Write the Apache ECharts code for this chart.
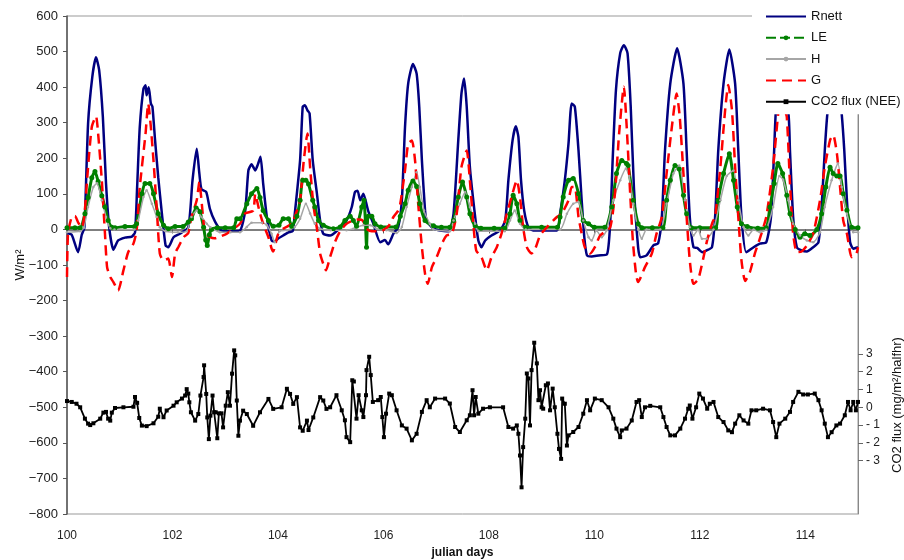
<!DOCTYPE html>
<html>
<head>
<meta charset="utf-8">
<script src="https://cdn.jsdelivr.net/npm/echarts@6/dist/echarts.min.js"></script>
<style>
  html, body { margin: 0; padding: 0; background: #fff; }
  #chart { width: 904px; height: 560px; }
</style>
</head>
<body>
<div id="chart"></div>
<script>
// [julian day, W/m2]
const rnett = [[100.00,-10],[100.09,-15],[100.21,-64],[100.28,-15],[100.33,5],[100.40,298],[100.48,429],[100.55,484],[100.61,448],[100.68,316],[100.74,129],[100.80,6],[100.88,-57],[100.97,-31],[101.10,-23],[101.23,-20],[101.29,-8],[101.33,119],[101.38,288],[101.45,396],[101.49,405],[101.51,377],[101.55,400],[101.59,354],[101.62,345],[101.67,251],[101.73,147],[101.80,44],[101.87,-45],[101.92,-50],[102.02,-22],[102.14,-12],[102.30,6],[102.38,138],[102.46,227],[102.51,157],[102.55,113],[102.64,105],[102.71,58],[102.81,21],[102.93,-3],[103.10,-5],[103.28,-3],[103.38,53],[103.44,166],[103.50,183],[103.57,166],[103.62,183],[103.67,204],[103.72,129],[103.79,35],[103.88,-31],[103.94,-34],[104.01,-25],[104.10,-17],[104.20,-8],[104.28,-5],[104.32,45],[104.42,194],[104.47,345],[104.51,349],[104.56,335],[104.60,326],[104.66,194],[104.74,100],[104.80,25],[104.86,-12],[104.99,-17],[105.11,-5],[105.30,25],[105.40,63],[105.46,105],[105.51,109],[105.56,82],[105.62,100],[105.71,53],[105.81,16],[105.94,-36],[106.03,-30],[106.09,-42],[106.19,-12],[106.28,6],[106.35,82],[106.41,288],[106.47,410],[106.56,465],[106.63,438],[106.68,345],[106.73,194],[106.79,53],[106.82,25],[106.95,2],[107.20,-5],[107.25,-5],[107.33,44],[107.42,251],[107.48,382],[107.53,424],[107.58,345],[107.64,175],[107.74,35],[107.80,-31],[107.86,-50],[107.93,-31],[108.05,-17],[108.21,-3],[108.31,25],[108.37,138],[108.45,251],[108.51,290],[108.56,260],[108.61,138],[108.67,53],[108.75,6],[108.84,-3],[109.29,-3],[109.35,44],[109.44,138],[109.51,241],[109.57,354],[109.63,345],[109.70,222],[109.76,82],[109.81,-22],[109.86,-73],[109.95,-76],[110.08,-73],[110.24,-70],[110.30,16],[110.35,204],[110.41,392],[110.49,495],[110.56,518],[110.63,495],[110.69,345],[110.75,120],[110.83,-50],[110.87,-78],[110.99,-73],[111.12,-45],[111.21,-39],[111.28,35],[111.34,222],[111.44,410],[111.57,509],[111.69,410],[111.75,222],[111.81,35],[111.88,-50],[111.95,-52],[112.00,-59],[112.05,-64],[112.13,-59],[112.23,-50],[112.29,35],[112.35,222],[112.45,410],[112.56,506],[112.67,410],[112.73,222],[112.79,35],[112.88,-64],[113.02,-50],[113.14,-40],[113.26,-36],[113.35,35],[113.41,222],[113.44,326],[113.50,390],[113.56,380],[113.68,326],[113.71,222],[113.77,35],[113.84,-50],[113.93,-59],[114.03,-62],[114.15,-50],[114.25,-36],[114.31,62],[114.37,222],[114.42,326],[114.52,440],[114.62,420],[114.69,326],[114.74,222],[114.79,82],[114.85,-36],[114.91,-54],[115.00,-50]];

const le = [[100.00,5],[100.15,5],[100.25,5],[100.34,44],[100.40,90],[100.47,145],[100.53,163],[100.59,135],[100.66,95],[100.72,63],[100.78,25],[100.85,6],[100.91,5],[101.10,8],[101.28,8],[101.32,16],[101.42,100],[101.48,129],[101.57,129],[101.64,100],[101.73,44],[101.83,12],[101.92,2],[102.05,8],[102.20,8],[102.30,21],[102.36,30],[102.45,60],[102.52,50],[102.59,6],[102.63,-30],[102.66,-45],[102.70,-15],[102.74,0],[102.85,5],[103.00,5],[103.16,5],[103.22,30],[103.28,30],[103.41,72],[103.50,100],[103.60,115],[103.66,90],[103.72,53],[103.82,25],[103.91,9],[104.02,12],[104.10,30],[104.20,30],[104.26,9],[104.36,37],[104.42,82],[104.47,138],[104.53,138],[104.58,128],[104.66,82],[104.70,63],[104.77,25],[104.86,12],[105.05,2],[105.18,7],[105.27,25],[105.37,37],[105.43,25],[105.49,9],[105.59,63],[105.63,82],[105.66,20],[105.68,-50],[105.71,37],[105.78,37],[105.84,16],[105.95,7],[106.24,7],[106.32,37],[106.41,72],[106.47,110],[106.56,136],[106.63,121],[106.69,72],[106.79,25],[106.95,10],[107.10,6],[107.26,6],[107.33,25],[107.42,91],[107.50,133],[107.58,91],[107.64,44],[107.74,10],[107.85,3],[108.10,3],[108.30,3],[108.40,44],[108.46,96],[108.53,72],[108.59,25],[108.70,6],[109.00,6],[109.30,6],[109.35,35],[109.41,91],[109.51,138],[109.60,143],[109.70,100],[109.79,25],[109.89,16],[110.00,6],[110.20,6],[110.33,63],[110.42,157],[110.52,194],[110.61,185],[110.64,180],[110.74,82],[110.83,16],[110.90,5],[111.10,5],[111.30,5],[111.37,82],[111.44,138],[111.53,180],[111.61,170],[111.69,96],[111.75,44],[111.84,5],[112.00,5],[112.30,5],[112.35,82],[112.45,157],[112.56,213],[112.64,138],[112.71,63],[112.79,16],[112.90,8],[113.10,3],[113.26,5],[113.33,63],[113.41,129],[113.48,185],[113.57,157],[113.65,96],[113.71,44],[113.81,0],[113.90,-22],[113.99,-12],[114.09,-17],[114.22,0],[114.31,44],[114.39,119],[114.47,175],[114.53,157],[114.60,150],[114.66,150],[114.72,100],[114.79,54],[114.88,6],[115.00,5]];

const h = [[100.00,-8],[100.25,-5],[100.32,5],[100.40,63],[100.50,119],[100.57,130],[100.66,82],[100.74,35],[100.82,3],[100.90,0],[101.28,0],[101.35,25],[101.45,91],[101.51,110],[101.61,72],[101.70,35],[101.76,6],[101.87,-5],[102.10,-8],[102.27,-5],[102.36,35],[102.46,53],[102.55,35],[102.65,16],[102.72,6],[102.90,-8],[103.10,-8],[103.28,-8],[103.41,7],[103.50,19],[103.70,19],[103.79,12],[103.88,-12],[103.94,-36],[104.03,-5],[104.17,-2],[104.32,7],[104.42,30],[104.53,72],[104.61,45],[104.70,16],[104.80,2],[105.00,-2],[105.30,-2],[105.43,2],[105.62,12],[105.75,12],[105.87,2],[106.06,-2],[106.25,-10],[106.35,7],[106.44,63],[106.54,119],[106.63,161],[106.69,119],[106.77,53],[106.88,16],[106.95,0],[107.26,-5],[107.33,25],[107.45,72],[107.55,105],[107.64,63],[107.74,16],[107.80,-5],[108.30,-5],[108.40,25],[108.49,53],[108.59,16],[108.70,0],[109.35,0],[109.48,44],[109.60,72],[109.70,77],[109.79,25],[109.89,-22],[109.95,-31],[110.04,-3],[110.14,-22],[110.23,-3],[110.36,82],[110.49,138],[110.60,171],[110.66,150],[110.74,72],[110.83,0],[110.90,-26],[110.99,0],[111.25,0],[111.37,72],[111.50,157],[111.61,180],[111.72,82],[111.81,6],[111.88,-17],[111.97,0],[112.04,-26],[112.13,-26],[112.26,0],[112.39,82],[112.51,150],[112.64,166],[112.73,82],[112.83,6],[112.92,-17],[113.02,0],[113.14,-8],[113.26,0],[113.39,63],[113.51,150],[113.58,140],[113.68,82],[113.77,16],[113.90,-17],[114.03,-31],[114.15,-36],[114.28,-8],[114.37,63],[114.50,138],[114.62,185],[114.69,119],[114.79,44],[114.91,-8],[115.00,-8]];

const g = [[100.00,-134],[100.02,-10],[100.09,35],[100.15,38],[100.21,20],[100.28,5],[100.33,40],[100.39,157],[100.47,288],[100.55,318],[100.59,270],[100.66,138],[100.72,-12],[100.76,-106],[100.82,-134],[100.88,-148],[100.97,-172],[101.07,-115],[101.16,-64],[101.26,-40],[101.32,-3],[101.38,119],[101.49,270],[101.54,354],[101.59,288],[101.64,194],[101.70,63],[101.76,-68],[101.83,-87],[101.92,-82],[101.99,-134],[102.05,-68],[102.11,-50],[102.21,-22],[102.30,-10],[102.36,35],[102.46,82],[102.51,133],[102.55,82],[102.60,6],[102.64,-12],[102.70,-20],[102.80,-25],[102.90,-20],[103.03,-12],[103.28,16],[103.38,45],[103.53,53],[103.57,100],[103.62,70],[103.66,45],[103.72,16],[103.82,-22],[103.88,-54],[103.91,-62],[104.00,-15],[104.10,2],[104.26,16],[104.36,53],[104.42,82],[104.49,194],[104.56,270],[104.61,175],[104.67,72],[104.74,2],[104.80,-68],[104.86,-97],[104.91,-115],[104.99,-77],[105.08,-36],[105.18,-5],[105.30,16],[105.43,25],[105.52,28],[105.61,25],[105.68,2],[105.78,-5],[105.95,-5],[106.10,10],[106.19,35],[106.28,53],[106.32,72],[106.41,166],[106.47,241],[106.54,250],[106.60,194],[106.66,72],[106.73,-50],[106.79,-125],[106.84,-153],[106.92,-106],[107.01,-78],[107.11,-40],[107.20,-17],[107.30,-12],[107.39,44],[107.48,175],[107.58,222],[107.64,138],[107.70,25],[107.76,-59],[107.86,-78],[107.96,-115],[108.05,-78],[108.15,-50],[108.24,-12],[108.34,44],[108.43,91],[108.53,138],[108.59,91],[108.65,6],[108.72,-50],[108.81,-68],[108.88,-54],[108.97,-17],[109.10,6],[109.29,35],[109.38,44],[109.51,82],[109.57,119],[109.63,119],[109.70,35],[109.76,-12],[109.82,-50],[109.92,-68],[110.01,-50],[110.11,-17],[110.30,6],[110.39,100],[110.47,270],[110.56,401],[110.61,298],[110.68,100],[110.73,-31],[110.79,-125],[110.83,-148],[110.96,-106],[111.09,-68],[111.18,-12],[111.28,35],[111.37,157],[111.47,288],[111.56,382],[111.62,316],[111.69,157],[111.75,35],[111.81,-87],[111.88,-153],[111.97,-140],[112.06,-85],[112.14,-30],[112.24,20],[112.29,35],[112.39,175],[112.48,335],[112.54,406],[112.61,335],[112.67,175],[112.73,35],[112.79,-87],[112.86,-145],[112.95,-120],[113.04,-70],[113.14,-25],[113.26,35],[113.39,175],[113.48,316],[113.53,370],[113.60,340],[113.65,316],[113.71,129],[113.77,-12],[113.84,-64],[113.93,-62],[114.03,-45],[114.15,-12],[114.28,82],[114.37,175],[114.47,251],[114.53,265],[114.60,213],[114.66,119],[114.72,25],[114.79,-12],[114.88,-78],[114.97,-68],[115.00,-50]];

// [julian day, mg/m2/halfhr] on the right axis
const co2 = [[100.00,0.35],[100.09,0.3],[100.18,0.2],[100.25,0],[100.34,-0.64],[100.40,-0.92],[100.44,-1.0],[100.50,-0.9],[100.63,-0.64],[100.69,-0.3],[100.74,-0.26],[100.78,-0.64],[100.82,-0.75],[100.85,-0.3],[100.91,-0.04],[101.07,0],[101.26,0.03],[101.29,0.58],[101.33,0.25],[101.37,-0.6],[101.42,-1.03],[101.51,-1.06],[101.64,-0.9],[101.73,-0.53],[101.76,-0.08],[101.83,-0.56],[101.89,-0.18],[102.02,0.09],[102.08,0.28],[102.18,0.49],[102.24,0.66],[102.27,1.02],[102.30,0.77],[102.32,0.28],[102.35,-0.28],[102.43,-0.75],[102.49,-0.38],[102.53,0.66],[102.59,1.7],[102.60,2.36],[102.64,0.75],[102.66,-0.57],[102.69,-1.79],[102.72,-0.47],[102.76,0.66],[102.79,-0.28],[102.82,-0.28],[102.85,-1.74],[102.88,-0.34],[102.93,-0.34],[102.96,-1.13],[103.01,0.09],[103.05,0.85],[103.09,0.09],[103.13,1.89],[103.17,3.2],[103.19,2.92],[103.22,0.38],[103.25,-1.6],[103.28,-0.75],[103.34,-0.19],[103.41,-0.38],[103.53,-1.04],[103.66,-0.28],[103.82,0.47],[103.91,-0.09],[104.07,0],[104.17,1.04],[104.23,0.75],[104.29,0.19],[104.36,0.57],[104.42,-1.13],[104.47,-1.32],[104.55,-0.75],[104.58,-1.28],[104.67,-0.57],[104.80,0.57],[104.86,0.38],[104.92,-0.09],[104.99,0],[105.11,0.68],[105.21,-0.17],[105.27,-0.73],[105.30,-1.68],[105.37,-1.96],[105.41,1.52],[105.44,1.45],[105.49,-0.64],[105.53,0.68],[105.59,-0.17],[105.62,-0.55],[105.67,0.68],[105.68,2.09],[105.73,2.84],[105.76,1.81],[105.80,0.3],[105.90,0.4],[105.95,0.58],[105.98,-0.55],[106.01,-1.68],[106.05,-0.36],[106.11,0.77],[106.16,0.68],[106.25,-0.17],[106.35,-1.02],[106.44,-1.2],[106.54,-1.86],[106.63,-1.49],[106.73,-0.26],[106.82,0.4],[106.88,0],[106.98,0.49],[107.17,0.49],[107.26,0.21],[107.36,-1.11],[107.45,-1.39],[107.58,-0.73],[107.64,-0.45],[107.69,0.96],[107.72,-0.45],[107.75,0.58],[107.80,-0.36],[107.89,-0.08],[108.02,0],[108.27,0],[108.37,-1.11],[108.46,-1.2],[108.53,-1.02],[108.56,-1.49],[108.59,-2.71],[108.62,-4.5],[108.65,-2.24],[108.69,-0.64],[108.72,1.9],[108.75,1.62],[108.78,-1.02],[108.81,2.09],[108.86,3.63],[108.91,2.47],[108.94,0.4],[108.97,0.96],[109.00,0],[109.03,-0.08],[109.08,1.24],[109.12,1.34],[109.16,-0.17],[109.21,1.05],[109.25,0],[109.30,-1.49],[109.33,-2.34],[109.37,-2.9],[109.39,0.49],[109.44,0.2],[109.48,-2.15],[109.51,-1.58],[109.60,-1.39],[109.70,-1.11],[109.79,-0.36],[109.86,0.4],[109.92,-0.17],[110.01,0.49],[110.14,0.4],[110.27,0],[110.36,-0.64],[110.42,-1.2],[110.49,-1.68],[110.52,-1.3],[110.61,-1.2],[110.71,-0.74],[110.80,0.3],[110.85,0.4],[110.90,-0.55],[110.96,0],[111.06,0.08],[111.25,0],[111.31,-0.55],[111.37,-1.11],[111.44,-1.58],[111.53,-1.58],[111.63,-1.2],[111.72,-0.64],[111.78,-0.08],[111.81,0.1],[111.86,-0.64],[111.93,0],[111.99,0.77],[112.06,0.49],[112.14,-0.08],[112.19,0.2],[112.26,0.3],[112.35,-0.55],[112.45,-0.83],[112.54,-1.3],[112.61,-1.4],[112.67,-0.92],[112.75,-0.45],[112.83,-0.74],[112.92,-0.92],[112.98,-0.17],[113.07,-0.17],[113.20,-0.08],[113.33,-0.17],[113.39,-0.83],[113.45,-1.68],[113.51,-0.92],[113.62,-0.64],[113.71,-0.26],[113.77,0.3],[113.87,0.87],[113.96,0.72],[114.05,0.72],[114.18,0.77],[114.25,0.4],[114.31,-0.17],[114.37,-0.92],[114.43,-1.68],[114.50,-1.4],[114.59,-1.02],[114.66,-0.92],[114.75,-0.45],[114.81,0.3],[114.86,-0.17],[114.91,0.3],[114.96,-0.17],[115.00,0.3]];

const dayTicks = [100, 102, 104, 106, 108, 110, 112, 114];
const co2Ticks = [-3, -2, -1, 0, 1, 2, 3];

const font = 'Liberation Sans';
const myChart = echarts.init(document.getElementById('chart'));

const option = {
  animation: false,
  textStyle: { fontFamily: font },
  grid: {
    left: 67, right: 46, top: 16, bottom: 46,
    // keep the plot box fixed, labels may sit close to the edge
    outerBoundsMode: 'none',
    show: true, borderColor: '#999', borderWidth: 1
  },
  legend: {
    orient: 'vertical',
    left: 752, top: 4,
    padding: [6, 10, 6, 13],
    itemWidth: 40, itemHeight: 6, itemGap: 8.3,
    backgroundColor: '#fff',
    textStyle: { fontSize: 13, color: '#111', fontFamily: font },
    // legend keys: plain lines for Rnett and G, beaded dash for LE
    data: [
      { name: 'Rnett', itemStyle: { opacity: 0 } },
      { name: 'LE', lineStyle: { type: [10, 4] } },
      { name: 'H' },
      { name: 'G', itemStyle: { opacity: 0 } },
      { name: 'CO2 flux (NEE)' }
    ]
  },
  xAxis: {
    type: 'value', min: 100, max: 115,
    name: 'julian days', nameLocation: 'middle', nameGap: 30,
    nameTextStyle: { fontWeight: 'bold', fontSize: 12, color: '#111' },
    axisLine: { lineStyle: { color: '#555', width: 1.5 } },
    axisTick: { customValues: dayTicks, length: 4, lineStyle: { color: '#555' } },
    axisLabel: { customValues: dayTicks, fontSize: 12, color: '#222', margin: 16 },
    splitLine: { show: false }
  },
  yAxis: [
    {
      type: 'value', min: -800, max: 600, interval: 100,
      name: 'W/m²', nameLocation: 'middle', nameGap: 40, nameRotate: 90,
      nameMoveOverlap: false,
      nameTextStyle: { fontSize: 13, color: '#111' },
      axisLine: { show: true, lineStyle: { color: '#555', width: 1.5 } },
      axisTick: { show: true, length: 4, lineStyle: { color: '#555' } },
      axisLabel: {
        fontSize: 13, color: '#222', margin: 9,
        formatter: v => (v < 0 ? '\u2212' + (-v) : String(v))
      },
      splitLine: { show: false }
    },
    {
      type: 'value', position: 'right', min: -6, max: 22,
      axisLine: { show: true, lineStyle: { color: '#888', width: 1 } },
      axisTick: { show: true, customValues: co2Ticks, length: 5, lineStyle: { color: '#666' } },
      axisLabel: {
        customValues: co2Ticks, fontSize: 12, color: '#222', margin: 8,
        formatter: v => (v < 0 ? '- ' + (-v) : String(v))
      },
      splitLine: { show: false }
    }
  ],
  graphic: [{
    type: 'text', x: 897, y: 405, rotation: Math.PI / 2,
    style: {
      text: 'CO2 flux (mg/m²/halfhr)', font: '13px "Liberation Sans"',
      fill: '#111', textAlign: 'center', textVerticalAlign: 'middle'
    }
  }],
  series: [
    {
      name: 'Rnett', type: 'line', data: rnett, smooth: 0.2,
      showSymbol: false, symbol: 'none',
      lineStyle: { color: '#000080', width: 2.5 }, itemStyle: { color: '#000080' }
    },
    {
      name: 'LE', type: 'line', data: le, smooth: 0.2,
      symbol: 'circle', symbolSize: 5, showAllSymbol: true,
      lineStyle: { color: '#008000', width: 3 },
      itemStyle: { color: '#008000' }
    },
    {
      name: 'H', type: 'line', data: h, smooth: 0.2,
      symbol: 'circle', symbolSize: 2.5, showAllSymbol: true,
      lineStyle: { color: '#a6a6a6', width: 1.5 }, itemStyle: { color: '#a6a6a6' }
    },
    {
      name: 'G', type: 'line', data: g, smooth: 0.2,
      showSymbol: false, symbol: 'none',
      lineStyle: { color: '#ff0000', width: 2.5, type: [10, 6] }, itemStyle: { color: '#ff0000' }
    },
    {
      name: 'CO2 flux (NEE)', type: 'line', yAxisIndex: 1, data: co2,
      symbol: 'rect', symbolSize: 4, showAllSymbol: true,
      lineStyle: { color: '#000', width: 1.8 }, itemStyle: { color: '#000' }
    }
  ]
};

myChart.setOption(option);
</script>
</body>
</html>
